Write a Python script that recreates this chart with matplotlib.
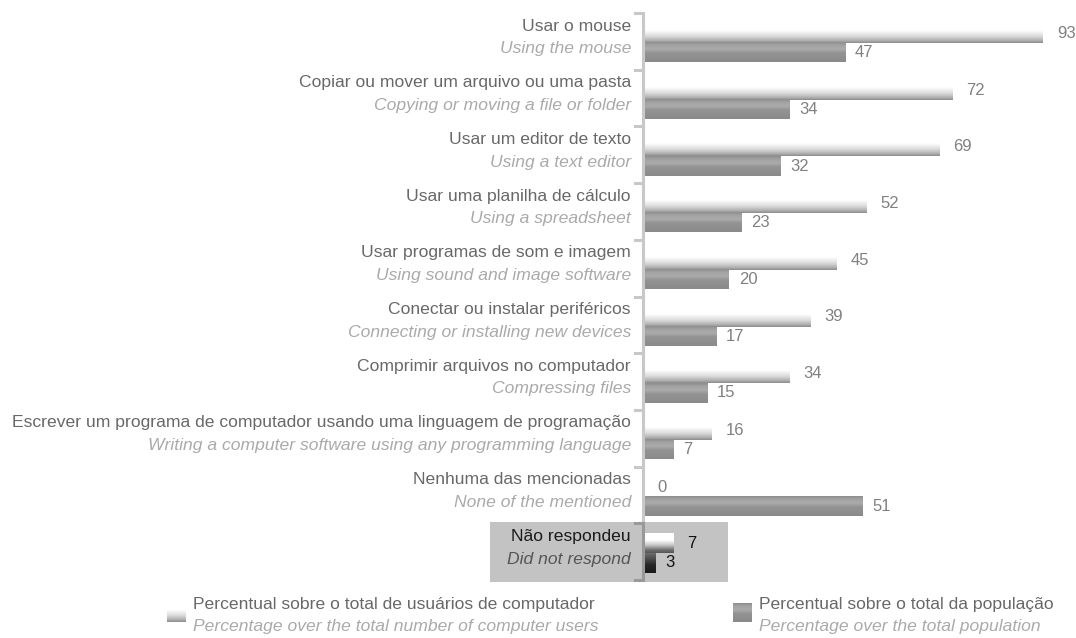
import matplotlib
matplotlib.use("Agg")
import matplotlib.pyplot as plt
import numpy as np
from matplotlib.colors import LinearSegmentedColormap
from matplotlib.patches import Rectangle

plt.rcParams['font.family'] = ['Liberation Sans', 'DejaVu Sans']

# Datos
etiquetas_pt = ["Usar o mouse",
                "Copiar ou mover um arquivo ou uma pasta",
                "Usar um editor de texto",
                "Usar uma planilha de cálculo",
                "Usar programas de som e imagem",
                "Conectar ou instalar periféricos",
                "Comprimir arquivos no computador",
                "Escrever um programa de computador usando uma linguagem de programação",
                "Nenhuma das mencionadas",
                "Não respondeu"]
etiquetas_en = ["Using the mouse",
                "Copying or moving a file or folder",
                "Using a text editor",
                "Using a spreadsheet",
                "Using sound and image software",
                "Connecting or installing new devices",
                "Compressing files",
                "Writing a computer software using any programming language",
                "None of the mentioned",
                "Did not respond"]
usuarios = [93, 72, 69, 52, 45, 39, 34, 16, 0, 7]
populacao = [47, 34, 32, 23, 20, 17, 15, 7, 51, 3]
leyenda_pt = ["Percentual sobre o total de usuários de computador",
              "Percentual sobre o total da população"]
leyenda_en = ["Percentage over the total number of computer users",
              "Percentage over the total population"]

W, H = 1076, 638
fig = plt.figure(figsize=(W / 100, H / 100), dpi=100)
x_eje = 643            # pixel del eje
px_unidad = 4.30       # pixeles por punto porcentual
paso = 56.7            # alto de cada fila en pixeles
y0 = 13                # inicio de la primera fila
fs = 12.6

ax = fig.add_axes([x_eje / W, 0, (W - x_eje) / W, 1])
xmax = (W - x_eje) / px_unidad
ymin, ymax = -y0 / paso, (H - y0) / paso
ax.axis("off")

# degradados
cm_blanco = LinearSegmentedColormap.from_list("b", [(0, "#ffffff"), (0.35, "#ffffff"), (0.65, "#dcdcdc"),
                                                    (0.88, "#b0b0b0"), (1, "#8c8c8c")])
cm_gris = LinearSegmentedColormap.from_list("g", [(0, "#8e8e8e"), (0.15, "#a2a2a2"), (0.35, "#ababab"),
                                                  (0.55, "#939393"), (1, "#8a8a8a")])
cm_blanco2 = LinearSegmentedColormap.from_list("b2", [(0, "#ffffff"), (0.35, "#ffffff"), (0.6, "#c8c8c8"),
                                                      (0.85, "#707070"), (1, "#555555")])
cm_negro = LinearSegmentedColormap.from_list("n", [(0, "#6e6e6e"), (0.3, "#4a4a4a"), (0.6, "#262626"),
                                                   (1, "#1a1a1a")])
grad = np.linspace(0, 1, 64).reshape(-1, 1)

n = len(usuarios)
filas = np.arange(n)

# caja gris de "Não respondeu"
ax.add_patch(Rectangle(((490 - x_eje) / px_unidad, n - 1 - 0.02), (728 - 490) / px_unidad, 1.06,
                       facecolor="#c3c3c3", edgecolor="none", clip_on=False, zorder=0))

alto = 0.34
b1 = ax.barh(filas + 0.36, usuarios, height=alto, color="none", zorder=2)
b2 = ax.barh(filas + 0.70, populacao, height=alto, color="none", zorder=2)

for i, (r1, r2) in enumerate(zip(b1, b2)):
    ultima = (i == n - 1)
    for r, cm in ((r1, cm_blanco2 if ultima else cm_blanco), (r2, cm_negro if ultima else cm_gris)):
        x, y, w, h = r.get_x(), r.get_y(), r.get_width(), r.get_height()
        if w > 0:
            ax.imshow(grad, cmap=cm, extent=(x, x + w, y + h, y), origin="upper",
                      aspect="auto", interpolation="bilinear", zorder=2)
    c_val = "#111111" if ultima else "#808080"
    ax.annotate(str(usuarios[i]), (r1.get_width(), r1.get_y() + r1.get_height() / 2),
                xytext=(10, 0), textcoords="offset points", va="center", ha="left",
                fontsize=12, color=c_val)
    ax.annotate(str(populacao[i]), (r2.get_width(), r2.get_y() + r2.get_height() / 2),
                xytext=(7, 0), textcoords="offset points", va="center", ha="left",
                fontsize=12, color=c_val)
    xt = -12 / px_unidad
    ax.text(xt, i + 0.23, etiquetas_pt[i], ha="right", va="center", fontsize=fs,
            color="#1a1a1a" if ultima else "#686868", clip_on=False)
    ax.text(xt, i + 0.63, etiquetas_en[i], ha="right", va="center", fontsize=fs, style="italic",
            color="#555555" if ultima else "#aaaaaa", clip_on=False)

# eje vertical con marcas
ax.plot([0, 0], [0, n - 1], color="#c8c8c8", lw=2.2, clip_on=False, zorder=3, solid_capstyle="butt")
ax.plot([0, 0], [n - 1, n], color="#999999", lw=2.2, clip_on=False, zorder=3, solid_capstyle="butt")
for k in range(n + 1):
    col = "#999999" if k >= n - 1 else "#c8c8c8"
    ax.plot([-8 / px_unidad, 0], [k, k], color=col, lw=2.2, clip_on=False, zorder=3)

ax.set_xlim(0, xmax)
ax.set_ylim(ymax, ymin)

# leyenda
cuadros = [(167, cm_blanco), (733, cm_gris)]
for j, (xl, cm) in enumerate(cuadros):
    la = fig.add_axes([xl / W, 1 - 622 / H, 19 / W, 19 / H])
    la.imshow(grad, cmap=cm, aspect="auto", interpolation="bilinear")
    la.axis("off")
    fig.text((xl + 26) / W, 1 - 605 / H, leyenda_pt[j], ha="left", va="center", fontsize=fs, color="#686868")
    fig.text((xl + 26) / W, 1 - 626 / H, leyenda_en[j], ha="left", va="center", fontsize=fs,
             style="italic", color="#aaaaaa")

fig.savefig("out.png", dpi=100)
